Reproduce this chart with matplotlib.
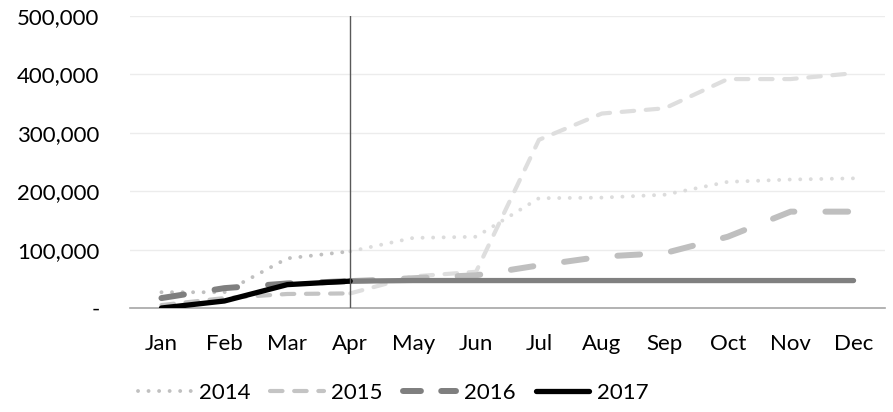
import matplotlib
matplotlib.use("Agg")
import matplotlib.pyplot as plt
from matplotlib.lines import Line2D
from matplotlib.ticker import FuncFormatter

plt.rcParams['font.family'] = ['Lato', 'DejaVu Sans']

months = ["Jan", "Feb", "Mar", "Apr", "May", "Jun", "Jul", "Aug", "Sep", "Oct", "Nov", "Dec"]
years = ["2014", "2015", "2016", "2017"]
v2014 = [27000, 27000, 85000, 97000, 120000, 122000, 188000, 189000, 194000, 216000, 220000, 222000]
v2015 = [5000, 17000, 24000, 25000, 54000, 62000, 288000, 333000, 342000, 392000, 392000, 402000]
v2016 = [17000, 34000, 42000, 46000, 51000, 56000, 73000, 88000, 94000, 122000, 165000, 165000]
v2017 = [0, 12000, 40000, 46000, 47000, 47000, 47000, 47000, 47000, 47000, 47000, 47000]
split_month = "Apr"
y_ticks = [0, 100000, 200000, 300000, 400000, 500000]

fig = plt.figure(figsize=(8.93, 4.12), dpi=100)
ax = fig.add_axes([130/893, (412-308)/412, (885-130)/893, (308-16)/412])

x = list(range(len(months)))
si = months.index(split_month)

styles = {
    "2014": dict(lw=2.8, dashes=(0.01, 2.7), c1="#c0c0c0", c2="#dcdcdc", ld=(0.01, 2.7)),
    "2015": dict(lw=3.0, dashes=(3.0, 2.8), c1="#c4c4c4", c2="#dedede", ld=(3.0, 2.8)),
    "2016": dict(lw=4.3, dashes=(3.8, 5.2), c1="#7f7f7f", c2="#bfbfbf", ld=(3.0, 3.4)),
    "2017": dict(lw=3.8, dashes=None, c1="#000000", c2="#808080", ld=None),
}
data = {"2014": v2014, "2015": v2015, "2016": v2016, "2017": v2017}

handles = []
for i, yr in enumerate(years):
    st = styles[yr]
    vals = data[yr]
    for seg, col, z in [((0, si + 1), st["c1"], 5 + i), ((si, len(months)), st["c2"], 3 + i)]:
        ln, = ax.plot(x[seg[0]:seg[1]], vals[seg[0]:seg[1]], color=col, lw=st["lw"],
                      solid_capstyle="round", dash_capstyle="round", zorder=z)
        if st["dashes"] is not None:
            ln.set_dashes(st["dashes"])
    h = Line2D([0], [0], color=st["c1"], lw=st["lw"], solid_capstyle="round",
               dash_capstyle="round")
    if st["ld"] is not None:
        h.set_dashes(st["ld"])
    handles.append(h)

ax.axvline(si, color="#595959", lw=1.0, zorder=10)

ax.set_xlim(-0.5, len(months) - 0.5)
ax.set_ylim(0, 500000)
ax.set_xticks(x)
ax.set_xticklabels(months)
ax.set_yticks(y_ticks)
ax.yaxis.set_major_formatter(FuncFormatter(lambda v, p: "-" if v == 0 else f"{int(v):,}"))
ax.tick_params(axis="both", length=0, labelsize=16, colors="#000000")
ax.tick_params(axis="y", pad=22)
ax.tick_params(axis="x", pad=19)
ax.grid(axis="y", color="#ececec", lw=1)
ax.set_axisbelow(True)
for s in ["top", "right", "left"]:
    ax.spines[s].set_visible(False)
ax.spines["bottom"].set_color("#a6a6a6")
ax.spines["bottom"].set_linewidth(1.2)
ax.spines["bottom"].set_zorder(2)

fig.legend(handles, years, loc="center", bbox_to_anchor=(0.44, 19/412), ncol=4,
           frameon=False, fontsize=16, handlelength=2.4, handletextpad=0.35,
           columnspacing=0.9)

fig.savefig("out.png", dpi=100)
